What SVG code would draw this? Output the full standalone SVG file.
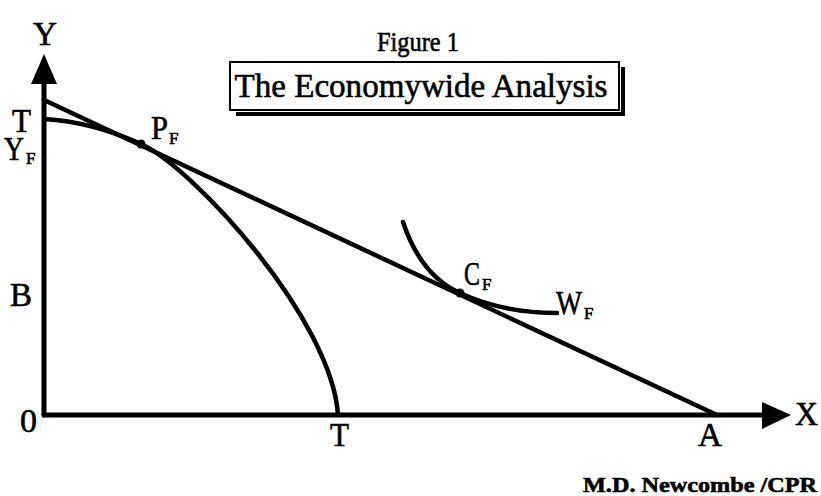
<svg xmlns="http://www.w3.org/2000/svg" width="821" height="496" viewBox="0 0 821 496">
<style>
.t{font-family:"Liberation Serif","Times New Roman",serif;fill:#000;stroke:#000;stroke-width:0.6}
.lbl{font-size:33px}
.sub{font-size:17px}
.ln{fill:none;stroke:#000;stroke-linecap:round}
</style>
<rect width="821" height="496" fill="#fff"/>
<g id="title">
<text class="t" x="418" y="51" font-size="28" text-anchor="middle" textLength="82" lengthAdjust="spacingAndGlyphs">Figure 1</text>
<path d="M623,67 V114 H236" fill="none" stroke="#000" stroke-width="4"/>
<rect x="230" y="62" width="389" height="48" fill="#fff" stroke="#000" stroke-width="2"/>
<text class="t" x="421" y="97" font-size="34" text-anchor="middle" textLength="373" lengthAdjust="spacingAndGlyphs">The Economywide Analysis</text>
</g>
<g id="connectors">
<g id="axes">
<path class="ln" d="M44,415 V80" stroke-width="5"/>
<path d="M44,54 L57,84 L31,84 Z" fill="#000"/>
<path class="ln" d="M44,415 H765" stroke-width="5"/>
<path d="M791,415 L762,402 L762,429 Z" fill="#000"/>
</g>
<path id="budget-line" class="ln" d="M44,100 L717,415" stroke-width="4.5"/>
<path id="ppf" class="ln" d="M44,119 C80,121 110,130 141,144 C195,169 332,320 338,415" stroke-width="4.5"/>
<path id="indifference" class="ln" d="M403,222 C415,258 433,281 460,293 C490,307 520,313 557,313" stroke-width="4.5"/>
</g>
<g id="point-PF">
<circle cx="141" cy="144" r="4.5" fill="#000"/>
<text class="t lbl" x="151" y="139" textLength="17" lengthAdjust="spacingAndGlyphs">P</text>
<text class="t sub" x="169" y="144">F</text>
</g>
<g id="point-CF">
<circle cx="460" cy="293" r="4.5" fill="#000"/>
<text class="t lbl" x="464" y="285" textLength="16" lengthAdjust="spacingAndGlyphs">C</text>
<text class="t sub" x="482" y="290">F</text>
</g>
<g id="label-WF">
<text class="t lbl" x="556" y="314" textLength="26" lengthAdjust="spacingAndGlyphs">W</text>
<text class="t sub" x="584" y="319">F</text>
</g>
<g id="axis-labels">
<text class="t lbl" x="33" y="45" textLength="24" lengthAdjust="spacingAndGlyphs">Y</text>
<text class="t lbl" x="12" y="132" textLength="19" lengthAdjust="spacingAndGlyphs">T</text>
<text class="t lbl" x="4" y="160" textLength="20" lengthAdjust="spacingAndGlyphs">Y</text>
<text class="t sub" x="26" y="164">F</text>
<text class="t lbl" x="10" y="306" textLength="22" lengthAdjust="spacingAndGlyphs">B</text>
<text class="t lbl" x="20" y="432" textLength="17" lengthAdjust="spacingAndGlyphs">0</text>
<text class="t lbl" x="330" y="446" textLength="19" lengthAdjust="spacingAndGlyphs">T</text>
<text class="t lbl" x="698" y="446" textLength="24" lengthAdjust="spacingAndGlyphs">A</text>
<text class="t lbl" x="795" y="425" textLength="23" lengthAdjust="spacingAndGlyphs">X</text>
</g>
<g id="credit">
<text class="t" x="583" y="492" font-size="22" font-weight="bold" stroke-width="0.2" textLength="234" lengthAdjust="spacingAndGlyphs">M.D. Newcombe /CPR</text>
</g>
</svg>
